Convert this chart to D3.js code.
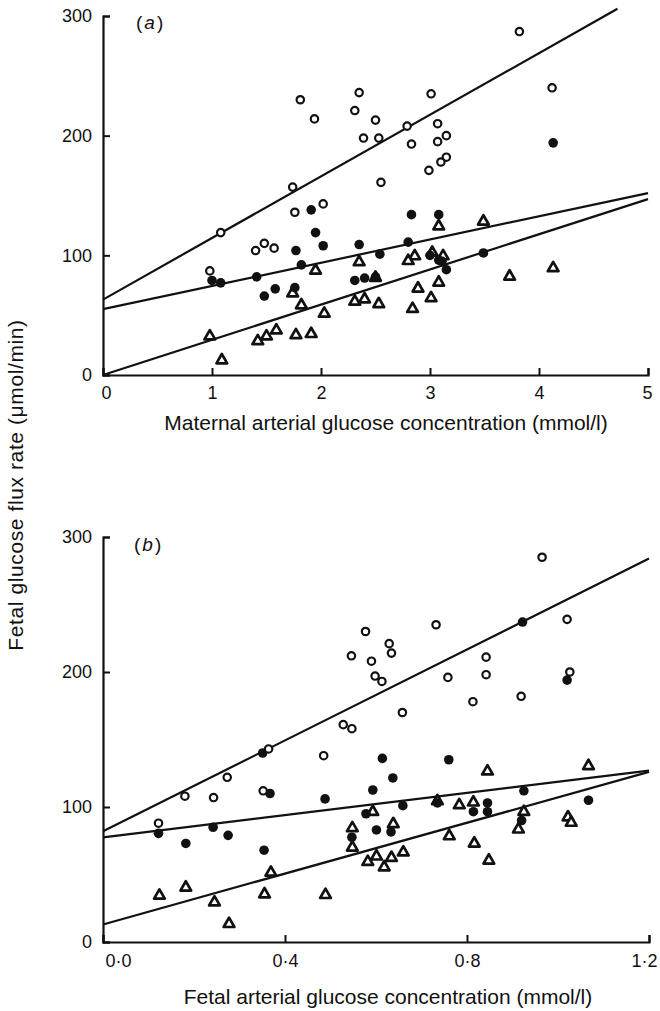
<!DOCTYPE html>
<html>
<head>
<meta charset="utf-8">
<script src="https://cdn.jsdelivr.net/npm/d3@7"></script>
<style>
  body { margin: 0; background: #fff; }
  svg { display: block; }
  text { font-family: "Liberation Sans", Arial, sans-serif; fill: #111; }
</style>
</head>
<body>
<svg id="chart" width="660" height="1011"></svg>
<script>
// ---------- Panel (a): maternal arterial glucose ----------
const aXTicks = [0, 1, 2, 3, 4, 5];
const aYTicks = [0, 100, 200, 300];
const aOpen = [
  [1.81,230],[1.94,214],[2.35,236],[2.31,221],[2.50,213],[2.39,198],[2.53,198],
  [1.74,157],[2.55,161],[3.82,287],[4.12,240],[3.01,235],[2.79,208],[3.07,210],
  [2.83,193],[3.15,200],[3.07,195],[3.15,182],[3.10,178],[2.99,171],[1.76,136],
  [2.02,143],[1.08,119],[1.40,104],[1.48,110],[1.57,106],[0.98,87]
];
const aFilled = [
  [1.91,138],[1.95,119],[2.02,108],[1.77,104],[1.82,92],[2.35,109],[2.54,101],
  [1.41,82],[1.00,79],[1.08,77],[1.48,66],[1.58,72],[1.76,73],[2.31,79],[2.40,81],
  [2.50,82],[2.83,134],[3.08,134],[2.80,111],[3.00,100],[3.08,96],[3.11,95],
  [3.15,88],[3.49,102],[4.13,194]
];
const aTri = [
  [1.95,88],[1.74,69],[1.82,59],[2.03,52],[0.98,33],[1.42,29],[1.50,33],[1.59,38],
  [1.77,34],[1.91,35],[1.09,13],[2.35,95],[2.31,62],[2.40,64],[2.50,82],[2.53,60],
  [3.49,129],[3.08,125],[2.86,100],[2.80,96],[3.02,103],[3.12,100],[2.84,56],
  [2.89,73],[3.08,78],[3.01,65],[3.73,83],[4.13,90]
];
// fitted lines: [x0, y0, x1, y1]
const aLines = [
  [0, 63, 4.72, 306],
  [0, 55, 5, 152],
  [0, 0, 5, 147]
];

// ---------- Panel (b): fetal arterial glucose ----------
const bXTicks = [0, 0.4, 0.8, 1.2];
const bYTicks = [0, 100, 200, 300];
const bOpen = [
  [0.965,285],[0.732,235],[1.020,239],[0.577,230],[0.546,212],[0.590,208],[0.598,197],
  [0.629,221],[0.634,214],[0.613,193],[0.842,211],[0.842,198],[0.758,196],[1.026,200],
  [0.813,178],[0.919,182],[0.658,170],[0.528,161],[0.547,158],[0.485,138],[0.364,143],
  [0.352,112],[0.273,122],[0.243,107],[0.180,108],[0.122,88]
];
const bFilled = [
  [0.922,237],[1.020,194],[0.614,136],[0.760,135],[0.637,121.5],[0.593,112.6],[0.659,101],
  [0.735,103],[0.925,112],[1.067,105],[0.845,103],[0.845,96.5],[0.814,96.5],[0.601,83],
  [0.633,81.5],[0.920,90],[0.351,140],[0.122,80.5],[0.182,73],[0.242,85],[0.275,79],
  [0.367,110],[0.354,68],[0.488,106],[0.578,95],[0.547,77.6]
];
const bTri = [
  [0.124,35],[0.182,41],[0.245,30],[0.277,14],[0.355,36],[0.369,52],[0.489,35.5],
  [0.593,97],[0.582,60],[0.601,64],[0.548,85],[0.548,70.6],[0.845,127],[1.067,131],
  [0.783,102],[0.814,104],[0.735,105],[0.638,88],[0.925,97],[0.913,84],[1.022,93],
  [1.029,89],[0.761,79],[0.816,73.6],[0.848,61],[0.634,63],[0.660,67],[0.618,56]
];
const bLines = [
  [0, 82, 1.2, 284],
  [0, 77.5, 1.2, 127],
  [0, 13, 1.2, 126]
];

const yTitle = "Fetal glucose flux rate (\u03bcmol/min)";
const aXTitle = "Maternal arterial glucose concentration (mmol/l)";
const bXTitle = "Fetal arterial glucose concentration (mmol/l)";

const svg = d3.select("#chart");

function drawPanel(cfg) {
  const x = d3.scaleLinear().domain(cfg.xDomain).range([cfg.left, cfg.right]);
  const y = d3.scaleLinear().domain([0, 300]).range([cfg.bottom, cfg.top]);
  const g = svg.append("g");

  const xAxis = d3.axisBottom(x).tickValues(cfg.xTicks).tickSize(-7)
    .tickPadding(cfg.xPad).tickFormat(cfg.xFmt);
  const yAxis = d3.axisLeft(y).tickValues(cfg.yTicks).tickSize(-7)
    .tickPadding(11).tickFormat(d3.format("d"));

  const gx = g.append("g").attr("transform", `translate(0,${cfg.bottom})`).call(xAxis);
  const gy = g.append("g").attr("transform", `translate(${cfg.left},0)`).call(yAxis);
  [gx, gy].forEach(a => {
    a.select(".domain").attr("stroke", "#111").attr("stroke-width", 2.2);
    a.selectAll(".tick line").attr("stroke", "#111").attr("stroke-width", 2);
    a.selectAll(".tick text").attr("font-size", 18).attr("fill", "#111")
      .attr("font-family", "'Liberation Sans', Arial, sans-serif");
  });
  const n = cfg.xTicks.length;
  gx.selectAll(".tick text").attr("dx", (d, i) => i === 0 ? cfg.firstDx : (i === n - 1 ? cfg.lastDx : 0));

  // fit lines
  g.append("g").selectAll("line").data(cfg.lines).join("line")
    .attr("x1", d => x(d[0])).attr("y1", d => y(d[1]))
    .attr("x2", d => x(d[2])).attr("y2", d => y(d[3]))
    .attr("stroke", "#111").attr("stroke-width", 2.2);

  // triangles
  const tri = d3.symbol().type(d3.symbolTriangle).size(50);
  g.append("g").selectAll("path").data(cfg.tri).join("path")
    .attr("d", tri)
    .attr("transform", d => `translate(${x(d[0])},${y(d[1]) + 0.8})`)
    .attr("fill", "#fff").attr("stroke", "#111").attr("stroke-width", 2.7)
    .attr("stroke-linejoin", "round");

  // filled circles
  g.append("g").selectAll("circle").data(cfg.filled).join("circle")
    .attr("cx", d => x(d[0])).attr("cy", d => y(d[1])).attr("r", 4.8)
    .attr("fill", "#111");

  // open circles
  g.append("g").selectAll("circle").data(cfg.open).join("circle")
    .attr("cx", d => x(d[0])).attr("cy", d => y(d[1])).attr("r", 3.7)
    .attr("fill", "#fff").attr("stroke", "#111").attr("stroke-width", 2.2);

  // x title
  g.append("text").attr("x", cfg.titleX).attr("y", cfg.titleY)
    .attr("text-anchor", "middle").attr("font-size", 21).text(cfg.xTitle);

  // panel label
  const lab = g.append("text").attr("x", cfg.labX).attr("y", cfg.labY).attr("font-size", 19);
  lab.append("tspan").text("(");
  lab.append("tspan").attr("font-style", "italic").attr("dx", 2).text(cfg.label);
  lab.append("tspan").attr("dx", 2).text(")");
}

drawPanel({
  xDomain: [0, 5], left: 103, right: 648, top: 16, bottom: 375,
  xTicks: aXTicks, yTicks: aYTicks, xFmt: d3.format("d"), xPad: 11, firstDx: 3, lastDx: -1,
  lines: aLines, open: aOpen, filled: aFilled, tri: aTri,
  xTitle: aXTitle, titleX: 386, titleY: 430, label: "a", labX: 136, labY: 29
});

drawPanel({
  xDomain: [0, 1.2], left: 103, right: 649, top: 537, bottom: 942,
  xTicks: bXTicks, yTicks: bYTicks,
  xFmt: d => d3.format(".1f")(d).replace(".", "\u00b7"), xPad: 12, firstDx: 15, lastDx: -5,
  lines: bLines, open: bOpen, filled: bFilled, tri: bTri,
  xTitle: bXTitle, titleX: 388, titleY: 1004, label: "b", labX: 134, labY: 551
});

// shared y title
svg.append("text")
  .attr("transform", "translate(23,485) rotate(-90)")
  .attr("text-anchor", "middle").attr("font-size", 21).attr("letter-spacing", 0.6)
  .text(yTitle);
</script>
</body>
</html>
